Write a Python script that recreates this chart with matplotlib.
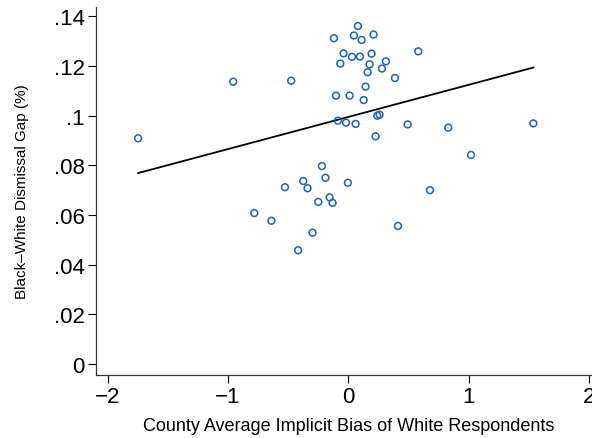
import matplotlib
matplotlib.use("Agg")
import matplotlib.pyplot as plt

# county-level points
bias_x = [-1.746, -0.956, -0.474, -0.119, 0.080, 0.047, 0.111, 0.210, -0.039, 0.031,
          0.097, 0.194, 0.582, -0.066, 0.177, 0.313, 0.280, 0.161, 0.388, 0.144,
          -0.102, 0.011, 0.128, -0.086, -0.019, 0.061, 0.241, 0.260, 0.493, 0.831,
          1.538, 0.227, 1.020, -0.219, -0.189, -0.374, -0.338, -0.003, 0.679, -0.526,
          -0.155, -0.249, -0.130, -0.781, -0.638, -0.297, -0.416, 0.413]
gap_y = [0.0909, 0.1137, 0.1141, 0.1312, 0.1361, 0.1323, 0.1305, 0.1327, 0.1251, 0.1237,
         0.1238, 0.1250, 0.1259, 0.1210, 0.1207, 0.1219, 0.1190, 0.1175, 0.1152, 0.1117,
         0.1081, 0.1081, 0.1063, 0.0980, 0.0972, 0.0967, 0.1000, 0.1004, 0.0965, 0.0952,
         0.0969, 0.0917, 0.0842, 0.0797, 0.0750, 0.0737, 0.0708, 0.0730, 0.0700, 0.0712,
         0.0671, 0.0653, 0.0649, 0.0608, 0.0577, 0.0529, 0.0458, 0.0556]

# fitted line endpoints
fit_x = [-1.746, 1.538]
fit_y = [0.0769, 0.1194]

x_ticks = [-2, -1, 0, 1, 2]
x_tick_labels = ["\u22122", "\u22121", "0", "1", "2"]
y_ticks = [0, 0.02, 0.04, 0.06, 0.08, 0.10, 0.12, 0.14]
y_tick_labels = ["0", ".02", ".04", ".06", ".08", ".1", ".12", ".14"]

plt.rcParams["font.family"] = ["Liberation Sans", "DejaVu Sans"]

fig = plt.figure(figsize=(5.92, 4.39), dpi=100)
ax = fig.add_axes([96 / 592, 63.3 / 439, 505 / 592, 368 / 439])

ax.scatter(bias_x, gap_y, s=24, facecolors="none", edgecolors="#1a64b7",
           linewidths=1.1, zorder=3)
ax.plot(fit_x, fit_y, color="black", linewidth=1.3, zorder=2)

ax.set_xlim(-2.096, 2.1)
ax.set_ylim(-0.0043, 0.1439)
ax.set_xticks(x_ticks)
ax.set_xticklabels(x_tick_labels)
ax.set_yticks(y_ticks)
ax.set_yticklabels(y_tick_labels)

ax.spines["top"].set_visible(False)
ax.spines["right"].set_visible(False)
for side in ["left", "bottom"]:
    ax.spines[side].set_linewidth(0.9)
    ax.spines[side].set_color("#333333")
ax.tick_params(axis="both", direction="out", length=6, width=0.8,
               labelsize=16, pad=2, colors="black")

ax.set_xlabel("County Average Implicit Bias of White Respondents", fontsize=13, labelpad=7)
ax.set_ylabel("Black\u2013White Dismissal Gap (%)", fontsize=11, labelpad=18)

fig.savefig("out.png", dpi=100)
